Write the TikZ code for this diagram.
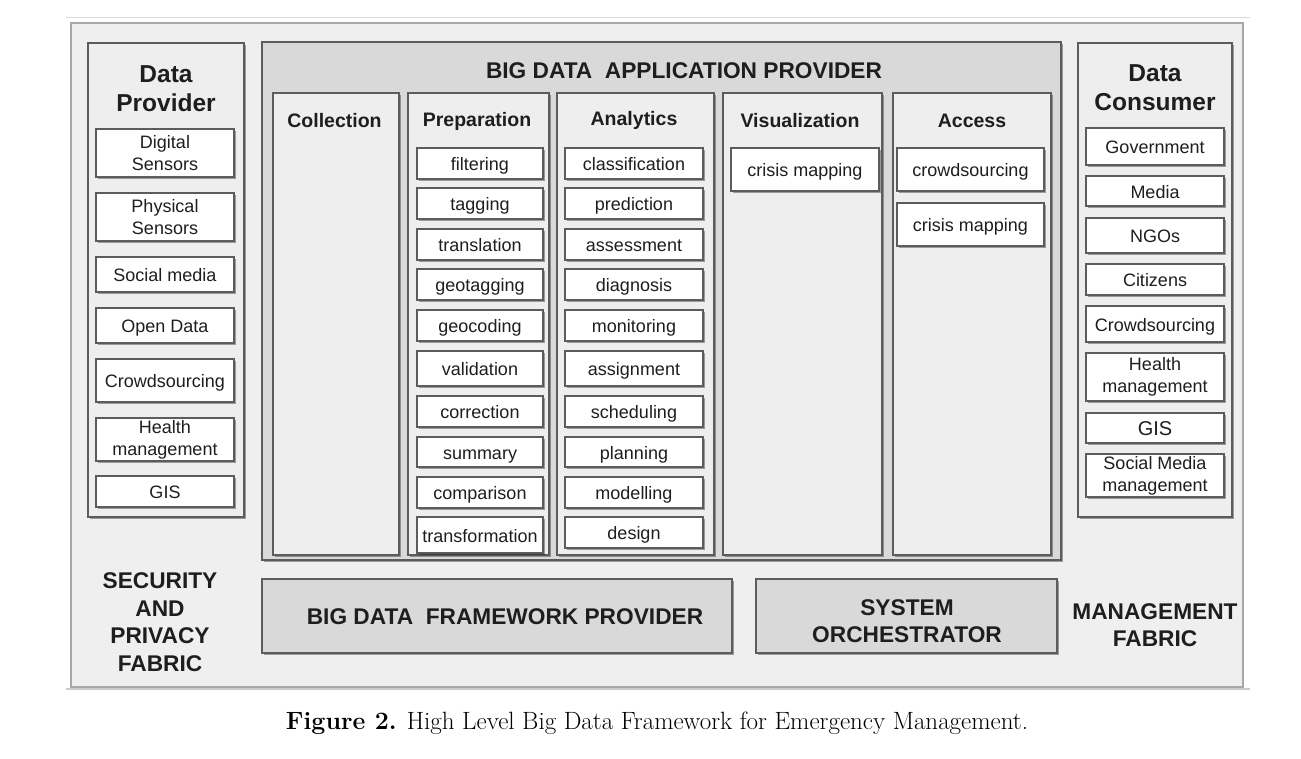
\documentclass[tikz,border=0pt]{standalone}
\usepackage{fontspec}
\newfontfamily\arialfont{Liberation Sans}
\usetikzlibrary{shadows}

\definecolor{framefill}{HTML}{EFEFEF}
\definecolor{frameline}{HTML}{A8A8A8}
\definecolor{panelfill}{HTML}{EEEEEE}
\definecolor{appfill}{HTML}{D9D9D9}
\definecolor{boxline}{HTML}{5C5C5C}
\definecolor{textgray}{HTML}{1E1E1E}

\begin{document}
\begin{tikzpicture}[x=1pt,y=-1pt]

\tikzset{shade/.style = {drop shadow={shadow xshift=1.6pt, shadow yshift=-1.8pt, fill=black, opacity=0.35}}}
\tikzset{panel/.style = {shape=rectangle, draw=boxline, line width=1.3pt, fill=panelfill, inner sep=0pt, shade}}
\tikzset{item/.style = {shape=rectangle, draw=boxline, line width=1.1pt, fill=white, inner sep=0pt, align=center, text=textgray, font=\arialfont\fontsize{18}{22}\selectfont, shade}}
\tikzset{oneline/.style = {text height=15pt, text depth=1pt}}
\tikzset{pitem/.style = {item, oneline, minimum width=126pt, minimum height=31pt}}
\tikzset{aitem/.style = {item, oneline, minimum width=138pt, minimum height=31pt}}
\tikzset{sitem/.style = {item, minimum width=138pt}}
\tikzset{title/.style = {align=center, text=textgray, font=\arialfont\bfseries\fontsize{24.5}{29}\selectfont}}
\tikzset{coltitle/.style = {text=textgray, font=\arialfont\bfseries\fontsize{19.5}{23}\selectfont}}
\tikzset{bigtitle/.style = {align=center, text=textgray, font=\arialfont\bfseries\fontsize{22.7}{27.5}\selectfont}}

\useasboundingbox (0,0) rectangle (1301,758);
\fill[white] (0,0) rectangle (1301,758);
\draw[black!15, line width=1pt] (66,17) -- (1250,17);
\draw[black!20, line width=1.5pt] (66,689) -- (1250,689);

%frame
\node[shape=rectangle, draw=frameline, line width=1.2pt, fill=framefill, inner sep=0pt, minimum width=1172pt, minimum height=664pt] (frame) at (657,355) {};

%data provider
\node[panel, minimum width=156pt, minimum height=474pt] (dp) at (166,280) {};
\node[title] (dpt) at (166,89) {Data\\Provider};
\node[sitem, minimum height=48pt] (d1) at (165,153) {Digital\\Sensors};
\node[sitem, minimum height=48pt] (d2) at (165,217) {Physical\\Sensors};
\node[sitem, oneline, minimum height=35pt] (d3) at (165,274.5) {Social media};
\node[sitem, oneline, minimum height=35pt] (d4) at (165,325.5) {Open Data};
\node[sitem, oneline, minimum height=43pt] (d5) at (165,380.5) {Crowdsourcing};
\node[sitem, minimum height=43pt] (d6) at (165,439.5) {Health\\management};
\node[sitem, oneline, minimum height=31pt] (d7) at (165,491.5) {GIS};

%application provider
\node[panel, fill=appfill, minimum width=799pt, minimum height=518pt] (ap) at (661.5,301) {};
\node[bigtitle] (apt) at (684,71) {BIG DATA\ \ APPLICATION PROVIDER};
\node[panel, minimum width=126pt, minimum height=462pt] (c1) at (336,324) {};
\node[panel, minimum width=141pt, minimum height=462pt] (c2) at (478.5,324) {};
\node[panel, minimum width=157pt, minimum height=462pt] (c3) at (635.5,324) {};
\node[panel, minimum width=159pt, minimum height=462pt] (c4) at (802.5,324) {};
\node[panel, minimum width=158pt, minimum height=462pt] (c5) at (972,324) {};
\node[coltitle] (c1t) at (334.5,121) {Collection};
\node[coltitle] (c2t) at (477,121) {Preparation};
\node[coltitle] (c3t) at (634,120) {Analytics};
\node[coltitle] (c4t) at (800,121) {Visualization};
\node[coltitle] (c5t) at (972,121) {Access};

%preparation
\node[pitem] (p1) at (480,163.5) {filtering};
\node[pitem] (p2) at (480,203.5) {tagging};
\node[pitem] (p3) at (480,244.5) {translation};
\node[pitem] (p4) at (480,284.5) {geotagging};
\node[pitem] (p5) at (480,325.5) {geocoding};
\node[pitem, minimum height=35pt] (p6) at (480,368.5) {validation};
\node[pitem] (p7) at (480,411.5) {correction};
\node[pitem, minimum height=30pt] (p8) at (480,452) {summary};
\node[pitem] (p9) at (480,492.5) {comparison};
\node[pitem, minimum height=36pt] (p10) at (480,535) {transformation};

%analytics
\node[aitem] (a1) at (634,163.5) {classification};
\node[aitem] (a2) at (634,203.5) {prediction};
\node[aitem] (a3) at (634,244.5) {assessment};
\node[aitem] (a4) at (634,284.5) {diagnosis};
\node[aitem] (a5) at (634,325.5) {monitoring};
\node[aitem, minimum height=35pt] (a6) at (634,368.5) {assignment};
\node[aitem] (a7) at (634,411.5) {scheduling};
\node[aitem, minimum height=30pt] (a8) at (634,452) {planning};
\node[aitem] (a9) at (634,492.5) {modelling};
\node[aitem] (a10) at (634,532.5) {design};

%visualization and access
\node[item, oneline, minimum width=148pt, minimum height=43pt] (v1) at (805,169.5) {crisis mapping};
\node[item, oneline, minimum width=147pt, minimum height=43pt] (x1) at (970.5,169.5) {crowdsourcing};
\node[item, oneline, minimum width=147pt, minimum height=43pt] (x2) at (970.5,224.5) {crisis mapping};

%data consumer
\node[panel, minimum width=154pt, minimum height=474pt] (dc) at (1155,280) {};
\node[title] (dct) at (1155,88) {Data\\Consumer};
\node[sitem, oneline, minimum height=37pt] (k1) at (1155,146.5) {Government};
\node[sitem, oneline, minimum height=30pt] (k2) at (1155,191) {Media};
\node[sitem, oneline, minimum height=35pt] (k3) at (1155,235.5) {NGOs};
\node[sitem, oneline, minimum height=31pt] (k4) at (1155,279.5) {Citizens};
\node[sitem, oneline, minimum height=36pt] (k5) at (1155,324) {Crowdsourcing};
\node[sitem, minimum height=48pt] (k6) at (1155,377) {Health\\management};
\node[sitem, oneline, minimum height=30pt, font=\arialfont\fontsize{20}{24}\selectfont] (k7) at (1155,428) {GIS};
\node[sitem, minimum height=43pt] (k8) at (1155,475.5) {Social Media\\management};

%bottom row
\node[panel, fill=appfill, minimum width=470pt, minimum height=74pt] (fp) at (497,616) {};
\node[bigtitle] (fpt) at (505,617) {BIG DATA\ \ FRAMEWORK PROVIDER};
\node[panel, fill=appfill, minimum width=301pt, minimum height=74pt] (so) at (906.5,616) {};
\node[bigtitle] (sot) at (907,621) {SYSTEM\\ORCHESTRATOR};
\node[bigtitle] (sec) at (160,622) {SECURITY\\AND\\PRIVACY\\FABRIC};
\node[bigtitle] (mg) at (1155,625) {MANAGEMENT\\FABRIC};

%caption
\node[font=\fontsize{25}{29}\selectfont] (cap) at (657,723) {\textbf{Figure 2.} High Level Big Data Framework for Emergency Management.};

\end{tikzpicture}
\end{document}
